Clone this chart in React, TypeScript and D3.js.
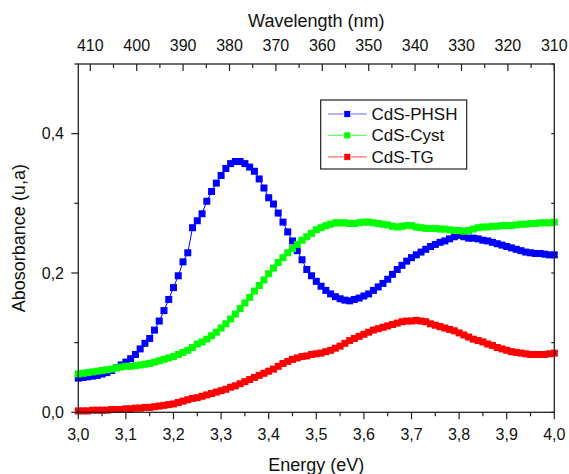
import React from "react";
import * as d3 from "d3";

const energies: number[] = d3.range(0, 101).map((i) => +(3 + i * 0.01).toFixed(2));

const phsh: number[] = [
  0.049, 0.050, 0.051, 0.052, 0.053, 0.055, 0.057, 0.060, 0.064, 0.068,
  0.072, 0.077, 0.083, 0.091, 0.099, 0.106, 0.118, 0.131, 0.146, 0.162,
  0.179, 0.196, 0.216, 0.229, 0.265, 0.275, 0.285, 0.303, 0.317, 0.329,
  0.340, 0.350, 0.357, 0.360, 0.360, 0.357, 0.352, 0.346, 0.335, 0.322,
  0.308, 0.299, 0.286, 0.273, 0.259, 0.246, 0.232, 0.219, 0.205, 0.196,
  0.188, 0.181, 0.175, 0.170, 0.166, 0.163, 0.161, 0.160, 0.162, 0.164,
  0.167, 0.170, 0.175, 0.180, 0.185, 0.191, 0.198, 0.205, 0.211, 0.217,
  0.222, 0.226, 0.230, 0.234, 0.238, 0.241, 0.244, 0.246, 0.249, 0.252,
  0.254, 0.252, 0.250, 0.250, 0.249, 0.247, 0.246, 0.244, 0.242, 0.240,
  0.238, 0.236, 0.234, 0.232, 0.230, 0.229, 0.228, 0.228, 0.227, 0.226,
  0.226,
];

const cyst: number[] = [
  0.055, 0.056, 0.057, 0.058, 0.059, 0.060, 0.061, 0.062, 0.064, 0.065,
  0.066, 0.066, 0.067, 0.068, 0.069, 0.070, 0.072, 0.074, 0.076, 0.078,
  0.080, 0.083, 0.086, 0.089, 0.093, 0.098, 0.101, 0.105, 0.110, 0.115,
  0.121, 0.127, 0.134, 0.141, 0.149, 0.157, 0.165, 0.174, 0.182, 0.190,
  0.199, 0.207, 0.215, 0.222, 0.229, 0.235, 0.241, 0.247, 0.252, 0.257,
  0.262, 0.265, 0.268, 0.270, 0.272, 0.272, 0.272, 0.271, 0.271, 0.272,
  0.273, 0.273, 0.272, 0.271, 0.270, 0.269, 0.267, 0.266, 0.267, 0.268,
  0.268, 0.266, 0.265, 0.264, 0.264, 0.264, 0.263, 0.263, 0.262, 0.261,
  0.261, 0.260, 0.261, 0.263, 0.265, 0.266, 0.266, 0.267, 0.267, 0.268,
  0.268, 0.268, 0.269, 0.270, 0.270, 0.271, 0.271, 0.272, 0.272, 0.272,
  0.273,
];

const tg: number[] = [
  0.002, 0.002, 0.002, 0.003, 0.003, 0.003, 0.003, 0.004, 0.004, 0.004,
  0.005, 0.005, 0.006, 0.006, 0.007, 0.007, 0.008, 0.009, 0.010, 0.011,
  0.012, 0.014, 0.016, 0.018, 0.020, 0.021, 0.023, 0.025, 0.027, 0.029,
  0.031, 0.033, 0.036, 0.038, 0.041, 0.044, 0.047, 0.050, 0.053, 0.056,
  0.059, 0.062, 0.066, 0.070, 0.073, 0.076, 0.078, 0.080, 0.081, 0.083,
  0.084, 0.085, 0.087, 0.089, 0.092, 0.095, 0.099, 0.103, 0.106, 0.109,
  0.112, 0.115, 0.118, 0.120, 0.122, 0.124, 0.126, 0.128, 0.130, 0.131,
  0.131, 0.132, 0.131, 0.130, 0.127, 0.125, 0.123, 0.121, 0.119, 0.117,
  0.114, 0.111, 0.108, 0.105, 0.103, 0.101, 0.098, 0.096, 0.093, 0.091,
  0.089, 0.087, 0.086, 0.085, 0.084, 0.083, 0.083, 0.083, 0.083, 0.084,
  0.085,
];

const seriesNames = ["CdS-PHSH", "CdS-Cyst", "CdS-TG"];
const seriesColors = ["#0000ff", "#00ff00", "#ff0000"];
const seriesValues = [phsh, cyst, tg];

const energyTicks = [3.0, 3.1, 3.2, 3.3, 3.4, 3.5, 3.6, 3.7, 3.8, 3.9, 4.0];
const energyMinor = d3.range(0, 21).map((i) => +(3 + i * 0.05).toFixed(2));
const absTicks = [0.0, 0.2, 0.4];
const absMinor = [0.0, 0.1, 0.2, 0.3, 0.4, 0.5];
const waveTicks = [410, 400, 390, 380, 370, 360, 350, 340, 330, 320, 310];
const waveMinor = d3.range(0, 21).map((i) => 410 - i * 5);

const xTitle = "Energy (eV)";
const yTitle = "Abosorbance (u,a)";
const topTitle = "Wavelength (nm)";

const FONT = "'Liberation Sans', Arial, sans-serif";

export default function App() {
  const L = 78.3, R = 554.3, T = 64, B = 412.3;
  const x = d3.scaleLinear().domain([3, 4]).range([L, R]);
  const y = d3.scaleLinear().domain([0, 0.5]).range([B, T]);
  const xTop = d3.scaleLinear().domain([310 + (R - L) / 4.64, 310]).range([L, R]);
  const fmt = (v: number) => v.toFixed(1).replace(".", ",");
  const line = d3
    .line<number>()
    .x((_, i) => x(energies[i]))
    .y((d) => y(d));
  const ms = 7;
  const axisColor = "#222";

  const legendX = 320.7, legendY = 100, legendW = 146, legendH = 69;

  return (
    <svg
      width={569}
      height={474}
      style={{ position: "absolute", left: 0, top: 0, background: "#fff" }}
      fontFamily={FONT}
    >
      <rect x={0} y={0} width={569} height={474} fill="#fff" />
      {/* series */}
      {seriesValues.map((vals, si) => (
        <g key={seriesNames[si]}>
          <path d={line(vals) || ""} fill="none" stroke={seriesColors[si]} strokeWidth={1} />
          {vals.map((v, i) => (
            <rect
              key={i}
              x={x(energies[i]) - ms / 2}
              y={y(v) - ms / 2}
              width={ms}
              height={ms}
              fill={seriesColors[si]}
            />
          ))}
        </g>
      ))}

      {/* frame */}
      <rect x={L} y={T} width={R - L} height={B - T} fill="none" stroke={axisColor} strokeWidth={1.3} />

      {/* bottom axis */}
      {energyMinor.map((v) => {
        const major = Math.abs(v * 10 - Math.round(v * 10)) < 1e-6;
        return (
          <line key={"bm" + v} x1={x(v)} x2={x(v)} y1={B} y2={B + (major ? 7 : 4)} stroke={axisColor} strokeWidth={1.2} />
        );
      })}
      {energyTicks.map((v) => (
        <text key={"bt" + v} x={x(v)} y={440} textAnchor="middle" fontSize={16} fill="#111">
          {fmt(v)}
        </text>
      ))}
      <text x={(L + R) / 2} y={471} textAnchor="middle" fontSize={18} fill="#111">
        {xTitle}
      </text>

      {/* left + right axis ticks */}
      {absMinor.map((v) => {
        const major = absTicks.some((t) => Math.abs(t - v) < 1e-6);
        return (
          <g key={"lm" + v}>
            <line x1={L - (major ? 7 : 4)} x2={L} y1={y(v)} y2={y(v)} stroke={axisColor} strokeWidth={1.2} />
            <line x1={R - 3} x2={R} y1={y(v)} y2={y(v)} stroke={axisColor} strokeWidth={1.2} />
          </g>
        );
      })}
      {absTicks.map((v) => (
        <text key={"lt" + v} x={64} y={y(v) + 5.7} textAnchor="end" fontSize={16} fill="#111">
          {fmt(v)}
        </text>
      ))}
      <text
        transform={`translate(25,${(T + B) / 2}) rotate(-90)`}
        textAnchor="middle"
        fontSize={18}
        fill="#111"
      >
        {yTitle}
      </text>

      {/* top axis */}
      {waveMinor.map((v) => {
        const major = v % 10 === 0;
        return (
          <line key={"tm" + v} x1={xTop(v)} x2={xTop(v)} y1={T} y2={T + (major ? 7 : 4)} stroke={axisColor} strokeWidth={1.2} />
        );
      })}
      {waveTicks.map((v) => (
        <text key={"tt" + v} x={xTop(v)} y={51} textAnchor="middle" fontSize={16} fill="#111">
          {v}
        </text>
      ))}
      <text x={(L + R) / 2} y={27} textAnchor="middle" fontSize={18} fill="#111">
        {topTitle}
      </text>

      {/* legend */}
      <rect x={legendX} y={legendY} width={legendW} height={legendH} fill="#fff" stroke={axisColor} strokeWidth={1.2} />
      {seriesNames.map((name, i) => {
        const cy = 114 + i * 21.4;
        return (
          <g key={"lg" + name}>
            <line x1={328} x2={366.7} y1={cy} y2={cy} stroke={seriesColors[i]} strokeOpacity={0.6} strokeWidth={1.2} />
            <rect x={347.3 - 3.5} y={cy - 3.5} width={7} height={7} fill={seriesColors[i]} stroke="#fff" strokeWidth={0.8} />
            <text x={371.5} y={cy + 6} fontSize={17} fill="#111">
              {name}
            </text>
          </g>
        );
      })}
    </svg>
  );
}
